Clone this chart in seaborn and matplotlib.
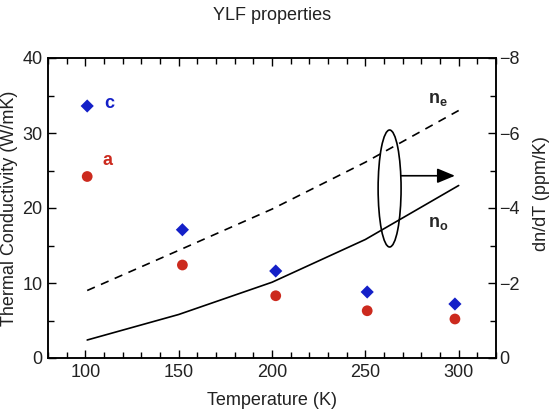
import matplotlib
matplotlib.use("Agg")
import matplotlib.pyplot as plt
import seaborn as sns
import pandas as pd
from matplotlib.patches import Ellipse
from matplotlib.ticker import MultipleLocator

# ---- data ----
temps_pts = [101, 152, 202, 251, 298]
k_c = [33.6, 17.1, 11.6, 8.8, 7.2]
k_a = [24.2, 12.4, 8.3, 6.3, 5.2]

temps_line = [101, 150, 200, 250, 300]
dndt_ne = [-1.8, -2.87, -3.97, -5.22, -6.6]
dndt_no = [-0.48, -1.16, -2.02, -3.16, -4.6]

x_ticks = [100, 150, 200, 250, 300]
yl_ticks = [0, 10, 20, 30, 40]
yr_ticks = [0, -2, -4, -6, -8]

sns.set_theme(style="ticks")
plt.rcParams['font.family'] = ['Liberation Sans', 'DejaVu Sans']
plt.rcParams['mathtext.fontset'] = 'custom'
plt.rcParams['mathtext.rm'] = 'Liberation Sans'
plt.rcParams['mathtext.bf'] = 'Liberation Sans:bold'
plt.rcParams['mathtext.it'] = 'Liberation Sans:italic'

FS = 13
TXT = '#222222'
fig = plt.figure(figsize=(5.55, 4.09), dpi=100)
ax = fig.add_axes([48/555, 51/409, 448/555, 300/409])

df_c = pd.DataFrame({"T": temps_pts, "k": k_c})
df_a = pd.DataFrame({"T": temps_pts, "k": k_a})
sns.scatterplot(data=df_c, x="T", y="k", ax=ax, marker="D", s=45,
                color="#1420c8", edgecolor="none", zorder=3)
sns.scatterplot(data=df_a, x="T", y="k", ax=ax, marker="o", s=60,
                color="#cc2a1e", edgecolor="none", zorder=3)

ax.set_xlim(80, 320)
ax.set_ylim(0, 40)
ax.set_xticks(x_ticks)
ax.set_yticks(yl_ticks)
ax.xaxis.set_minor_locator(MultipleLocator(10))
ax.yaxis.set_minor_locator(MultipleLocator(5))
ax.tick_params(axis='both', which='both', direction='in', top=True, right=False,
               labelsize=FS, color='black', labelcolor=TXT, width=1.0)
ax.tick_params(axis='both', which='major', length=6)
ax.tick_params(axis='both', which='minor', length=4)
ax.tick_params(axis='y', pad=4)
ax.tick_params(axis='x', pad=4)
for s in ax.spines.values():
    s.set_color('black')
    s.set_linewidth(1.1)

ax.set_xlabel("Temperature (K)", fontsize=FS, color=TXT)
ax.set_ylabel("Thermal Conductivity (W/mK)", fontsize=FS, color=TXT)
ax.xaxis.set_label_coords(0.5, -0.112)
ax.yaxis.set_label_coords(-0.068, 0.5)

ax.text(113, 34.0, "c", color="#1420c8", fontsize=FS, fontweight='bold',
        ha='center', va='center')
ax.text(112, 26.3, "a", color="#cc2a1e", fontsize=FS, fontweight='bold',
        ha='center', va='center')

ax2 = ax.twinx()
df_ne = pd.DataFrame({"T": temps_line, "d": dndt_ne})
df_no = pd.DataFrame({"T": temps_line, "d": dndt_no})
sns.lineplot(data=df_ne, x="T", y="d", ax=ax2, color='black', lw=1.2,
             linestyle=(0, (5, 4)))
sns.lineplot(data=df_no, x="T", y="d", ax=ax2, color='black', lw=1.2)
ax2.set_ylim(0, -8)
ax2.set_yticks(yr_ticks)
ax2.yaxis.set_minor_locator(MultipleLocator(1))
ax2.tick_params(axis='y', which='both', direction='in', labelsize=FS,
                labelcolor=TXT, color='black', width=1.0, pad=2)
ax2.tick_params(axis='y', which='major', length=6)
ax2.tick_params(axis='y', which='minor', length=4)
for s in ax2.spines.values():
    s.set_color('black')
    s.set_linewidth(1.1)
ax2.set_ylabel("dn/dT (ppm/K)", fontsize=FS, color=TXT)
ax2.yaxis.set_label_coords(1.083, 0.548)
ax2.set_xlabel("")

ax2.text(289, -6.9, r"$\mathbf{n_e}$", fontsize=FS, ha='center', va='center')
ax2.text(289, -3.6, r"$\mathbf{n_o}$", fontsize=FS, ha='center', va='center')

ell = Ellipse((263, -4.52), width=12.3, height=3.12, fill=False,
              edgecolor='black', lw=1.2, zorder=4)
ax2.add_patch(ell)
ax2.annotate("", xy=(298, -4.86), xytext=(269.2, -4.86),
             arrowprops=dict(arrowstyle='-|>,head_length=1.08,head_width=0.45',
                             mutation_scale=10,
                             color='black', lw=1.2, shrinkA=0, shrinkB=0))

fig.text(272/555, 1 - 16/409, "YLF properties", fontsize=FS, color=TXT,
         ha='center', va='center')

fig.savefig("out.png", dpi=100)
